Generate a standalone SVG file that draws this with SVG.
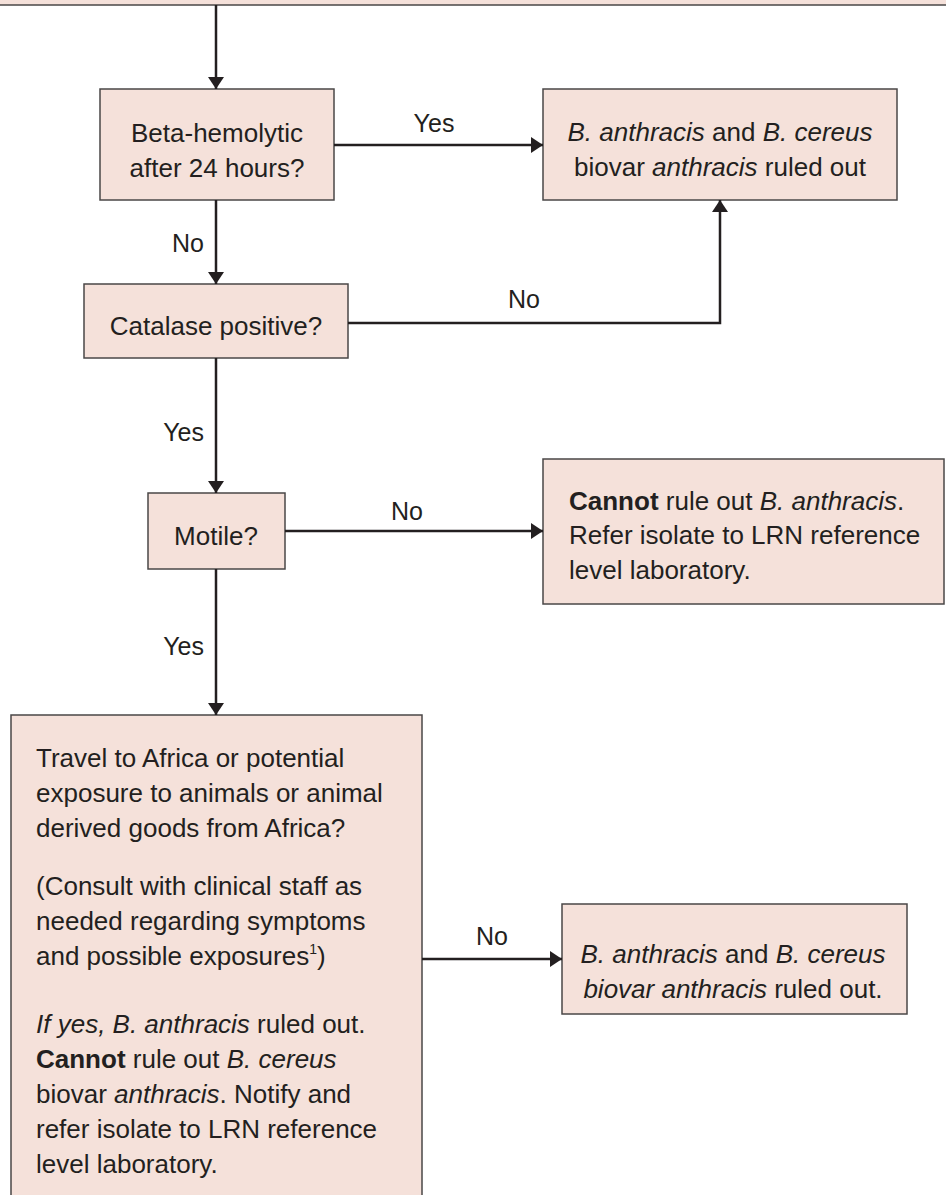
<svg xmlns="http://www.w3.org/2000/svg" width="946" height="1195" viewBox="0 0 946 1195">
<defs>
<style>
.box{fill:#f5e1da;stroke:#4a4747;stroke-width:1.5}
.t{font-family:"Liberation Sans",Arial,sans-serif;font-size:26px;fill:#231f20}
.m{text-anchor:middle}
.lbl{font-family:"Liberation Sans",Arial,sans-serif;font-size:25px;fill:#231f20}
.i{font-style:italic}
.b{font-weight:bold}
.c{fill:none;stroke:#231f20;stroke-width:2.5}
</style>
<marker id="ah" markerUnits="userSpaceOnUse" markerWidth="14" markerHeight="18" refX="12" refY="8" orient="auto">
<path d="M0,0 L12,8 L0,16 Z" fill="#231f20"/>
</marker>
</defs>
<rect width="946" height="1195" fill="#ffffff"/>

<g id="top-box">
<rect class="box" x="-5" y="-20" width="956" height="25"/>
</g>

<g id="beta">
<rect class="box" x="100" y="89" width="234" height="111"/>
<text class="t m" x="217" y="142">Beta-hemolytic</text>
<text class="t m" x="217" y="177">after 24 hours?</text>
</g>

<g id="ruledout1">
<rect class="box" x="543" y="89" width="354" height="111"/>
<text class="t m" x="720" y="141"><tspan class="i">B. anthracis</tspan> and <tspan class="i">B. cereus</tspan></text>
<text class="t m" x="720" y="176">biovar <tspan class="i">anthracis</tspan> ruled out</text>
</g>

<g id="catalase">
<rect class="box" x="84" y="284" width="264" height="74"/>
<text class="t m" x="216" y="335">Catalase positive?</text>
</g>

<g id="motile">
<rect class="box" x="148" y="493" width="137" height="76"/>
<text class="t m" x="216" y="545">Motile?</text>
</g>

<g id="cannot">
<rect class="box" x="543" y="459" width="401" height="145"/>
<text class="t" x="569" y="510"><tspan class="b">Cannot</tspan> rule out <tspan class="i">B. anthracis</tspan>.</text>
<text class="t" x="569" y="544">Refer isolate to LRN reference</text>
<text class="t" x="569" y="579">level laboratory.</text>
</g>

<g id="travel">
<rect class="box" x="11" y="715" width="411" height="520"/>
<text class="t" x="36" y="767">Travel to Africa or potential</text>
<text class="t" x="36" y="802">exposure to animals or animal</text>
<text class="t" x="36" y="837">derived goods from Africa?</text>
<text class="t" x="36" y="895">(Consult with clinical staff as</text>
<text class="t" x="36" y="930">needed regarding symptoms</text>
<text class="t" x="36" y="965">and possible exposures<tspan font-size="14" dy="-11">1</tspan><tspan dy="11">)</tspan></text>
<text class="t" x="36" y="1033"><tspan class="i">If yes, B. anthracis</tspan> ruled out.</text>
<text class="t" x="36" y="1068"><tspan class="b">Cannot</tspan> rule out <tspan class="i">B. cereus</tspan></text>
<text class="t" x="36" y="1103">biovar <tspan class="i">anthracis</tspan>. Notify and</text>
<text class="t" x="36" y="1138">refer isolate to LRN reference</text>
<text class="t" x="36" y="1173">level laboratory.</text>
</g>

<g id="ruledout2">
<rect class="box" x="562" y="904" width="345" height="110"/>
<text class="t m" x="733" y="963"><tspan class="i">B. anthracis</tspan> and <tspan class="i">B. cereus</tspan></text>
<text class="t m" x="733" y="998"><tspan class="i">biovar anthracis</tspan> ruled out.</text>
</g>

<g id="connectors">
<path class="c" d="M216,5 V89" marker-end="url(#ah)"/>
<path class="c" d="M334,145 H543" marker-end="url(#ah)"/>
<path class="c" d="M216,200 V284" marker-end="url(#ah)"/>
<path class="c" d="M348,323 H720 V200" marker-end="url(#ah)"/>
<path class="c" d="M216,358 V493" marker-end="url(#ah)"/>
<path class="c" d="M285,531 H543" marker-end="url(#ah)"/>
<path class="c" d="M216,569 V715" marker-end="url(#ah)"/>
<path class="c" d="M422,959 H562" marker-end="url(#ah)"/>
<text class="lbl m" x="434" y="132">Yes</text>
<text class="lbl" x="204" y="252" text-anchor="end">No</text>
<text class="lbl m" x="524" y="308">No</text>
<text class="lbl" x="204" y="441" text-anchor="end">Yes</text>
<text class="lbl m" x="407" y="520">No</text>
<text class="lbl" x="204" y="655" text-anchor="end">Yes</text>
<text class="lbl m" x="492" y="945">No</text>
</g>
</svg>
